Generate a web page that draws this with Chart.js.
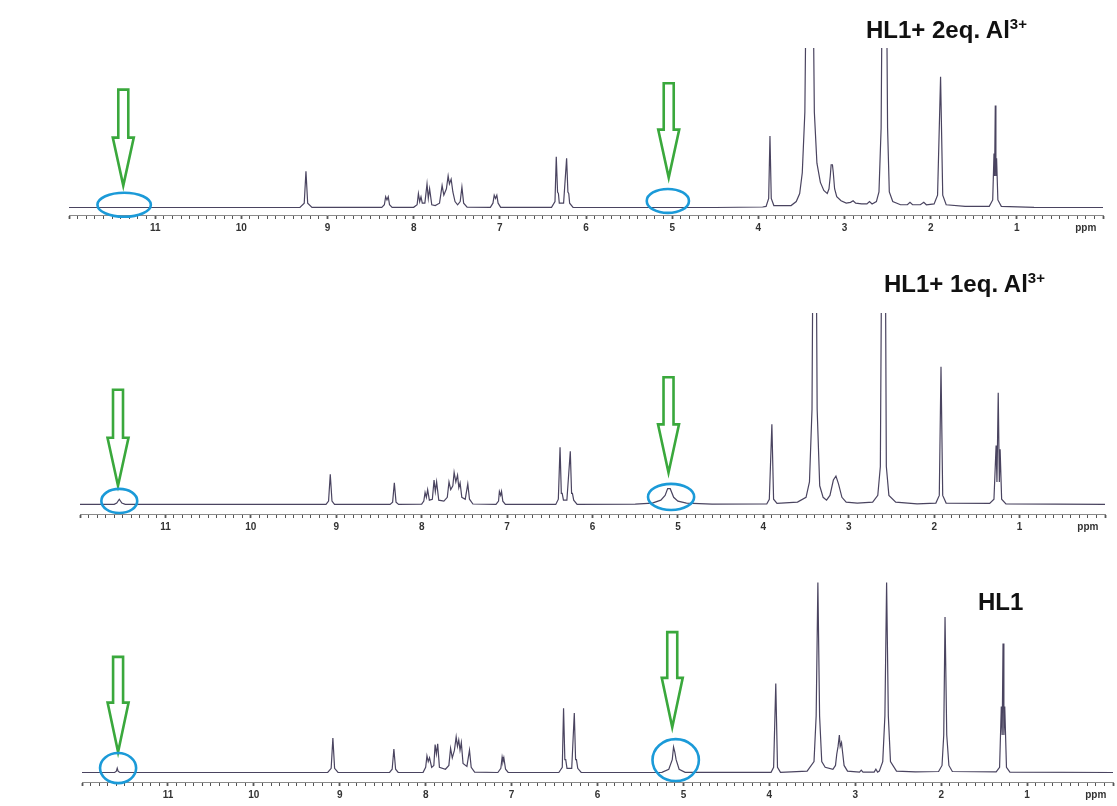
<!DOCTYPE html>
<html><head><meta charset="utf-8">
<script src="https://cdn.jsdelivr.net/npm/chart.js@4.4.1/dist/chart.umd.min.js"></script>
<style>
body{margin:0;background:#fff;width:1117px;height:806px;position:relative;overflow:hidden;font-family:"Liberation Sans",Arial,sans-serif}
.panel{position:absolute;left:0;width:1117px}
.lbl{position:absolute;font-weight:bold;font-size:24px;color:#111;white-space:nowrap;line-height:1}
.lbl sup{font-size:15px;vertical-align:0;position:relative;top:-9px}
</style></head>
<body>
<div class="panel" style="top:0;height:240px"><canvas id="c1" width="1117" height="240"></canvas></div>
<div class="panel" style="top:260px;height:280px"><canvas id="c2" width="1117" height="280"></canvas></div>
<div class="panel" style="top:560px;height:246px"><canvas id="c3" width="1117" height="246"></canvas></div>
<div class="lbl" style="left:866px;top:18px">HL1+ 2eq. Al<sup>3+</sup></div>
<div class="lbl" style="left:884px;top:272px">HL1+ 1eq. Al<sup>3+</sup></div>
<div class="lbl" style="left:978px;top:590px">HL1</div>
<script>
// ---- chemical shift tick labels (ppm) ----
const tickLabels = ['1','2','3','4','5','6','7','8','9','10','11'];
const unitLabel = 'ppm';

// ---- spectra: [ppm, relative intensity] ----
const spectrumTwoEq = [
 [12.0,0.3],[9.32,0.4],[9.27,3],[9.25,23],[9.23,3],[9.18,0.4],
 [8.37,0.4],[8.34,2],[8.325,7],[8.31,5],[8.295,7],[8.28,2],[8.25,0.4],
 [8.0,0.4],[7.96,2],[7.945,9],[7.93,4],[7.915,7],[7.9,3],[7.87,3],[7.845,15],[7.83,6],[7.815,12],[7.79,2],[7.75,1.5],
 [7.7,3],[7.67,14],[7.65,8],[7.62,12],[7.6,20],[7.585,15],[7.565,18],[7.545,10],[7.52,4],[7.49,2],[7.46,4],[7.44,13],[7.42,3],[7.38,0.5],
 [7.11,0.4],[7.08,3],[7.065,8],[7.05,6],[7.035,8],[7.02,3],[6.99,0.4],
 [6.40,0.4],[6.36,4],[6.345,32],[6.33,10],[6.32,9],[6.31,3],[6.26,3],[6.225,31],[6.21,10],[6.20,9],[6.19,3],[6.15,0.4],
 [5.2,0.3],[4.5,0.3],[3.95,0.6],[3.91,1],[3.88,6],[3.865,45],[3.85,6],[3.82,1.5],
 [3.62,1.5],[3.56,4],[3.52,9],[3.49,22],[3.46,60],[3.44,170],[3.37,170],[3.35,60],[3.32,28],[3.28,16],[3.24,11],[3.2,9],
 [3.18,12],[3.165,20],[3.155,27],[3.14,27],[3.13,22],[3.115,12],[3.09,7],[3.04,4.5],[2.98,3],[2.93,3.5],[2.9,4.5],[2.87,3],
 [2.8,2.5],[2.74,2.5],[2.71,4],[2.68,2.5],[2.63,4],[2.6,10],[2.575,50],[2.555,200],[2.52,200],[2.5,50],[2.48,10],[2.44,4],
 [2.35,2],[2.27,2],[2.24,3.5],[2.21,2],[2.12,2],[2.08,3.5],[2.05,2],[1.96,2.5],[1.92,8],[1.885,82],[1.86,8],[1.82,2],[1.6,1],
 [1.32,1],[1.28,5],[1.265,34],[1.258,20],[1.25,64],[1.243,20],[1.235,31],[1.22,5],[1.18,1],[0.8,0.4],[0.0,0.3]
];
const spectrumOneEq = [
 [12.0,0.3],[11.6,0.3],[11.57,1],[11.54,3],[11.51,1],[11.47,0.3],
 [9.12,0.3],[9.09,2],[9.07,16],[9.05,2],[9.02,0.3],
 [8.37,0.3],[8.34,1.5],[8.32,11.5],[8.30,1.5],[8.27,0.3],
 [8.0,0.4],[7.975,2],[7.96,6.5],[7.945,4],[7.93,8],[7.91,2.5],[7.875,3],[7.855,13],[7.84,7],[7.825,12],[7.8,2.5],[7.74,2],
 [7.7,4],[7.68,12],[7.66,8],[7.635,10],[7.62,17],[7.6,12],[7.58,15.5],[7.565,9],[7.55,11.5],[7.53,4],[7.49,3],[7.46,11],[7.44,3],[7.40,0.5],
 [7.13,0.3],[7.10,2],[7.09,7],[7.075,5],[7.065,7],[7.05,2],[7.02,0.3],
 [6.43,0.3],[6.40,3],[6.38,30],[6.365,6],[6.355,6],[6.34,2.5],[6.30,2.5],[6.26,28],[6.245,6],[6.235,6],[6.22,2.5],[6.18,0.3],
 [5.5,0.4],[5.3,1],[5.2,2.5],[5.15,5],[5.12,8.5],[5.09,8.5],[5.05,4],[5.0,2],[4.9,1],[4.6,0.4],
 [3.96,0.5],[3.93,3],[3.90,42],[3.88,3],[3.84,0.8],
 [3.6,1.5],[3.5,4],[3.46,12],[3.43,50],[3.415,170],[3.385,170],[3.37,50],[3.34,10],[3.3,4],[3.26,2.5],[3.22,5],[3.18,13],[3.15,15],[3.12,11],[3.08,4],[3.03,1.5],
 [2.9,1],[2.72,1.5],[2.66,5],[2.63,20],[2.61,170],[2.575,170],[2.56,20],[2.53,5],[2.45,1.5],[2.2,0.6],
 [1.98,1],[1.94,5],[1.92,72],[1.90,5],[1.86,1],
 [1.35,0.8],[1.3,3],[1.275,31],[1.265,12],[1.25,58.5],[1.237,12],[1.228,29],[1.21,3],[1.16,0.6],[0.0,0.3]
];
const spectrumFree = [
 [12.0,0.3],[11.62,0.3],[11.6,1],[11.59,2.6],[11.58,1],[11.56,0.3],
 [9.14,0.3],[9.1,2.5],[9.08,18.4],[9.06,2.5],[9.02,0.3],
 [8.42,0.3],[8.39,2],[8.37,12.6],[8.35,2],[8.32,0.3],
 [8.03,0.4],[8.0,3],[7.985,9],[7.97,6],[7.955,8],[7.93,3],[7.905,4],[7.89,15],[7.875,10],[7.86,15.3],[7.84,3],[7.77,2],
 [7.73,4],[7.71,13],[7.69,8],[7.665,12],[7.645,19],[7.63,14],[7.615,17.4],[7.6,12],[7.585,16],[7.565,5],[7.52,3.5],[7.49,12],[7.47,3],[7.43,0.5],
 [7.16,0.3],[7.125,2.5],[7.11,8.4],[7.10,6],[7.09,8],[7.07,2],[7.04,0.3],
 [6.45,0.3],[6.41,3],[6.395,34],[6.38,7],[6.37,7],[6.355,2.5],[6.3,2.5],[6.27,31.5],[6.255,7],[6.245,7],[6.23,2.5],[6.19,0.3],
 [5.25,0.4],[5.17,2],[5.13,7],[5.115,13.7],[5.1,11],[5.085,7],[5.05,2],[4.98,0.4],
 [3.98,0.4],[3.95,3],[3.925,47],[3.905,3],[3.87,0.4],
 [3.56,1],[3.48,6],[3.455,30],[3.435,100],[3.415,30],[3.39,6],[3.35,3],[3.26,2],[3.23,4],[3.215,10],[3.2,14],[3.185,20],[3.175,14],[3.16,16],[3.145,10],[3.13,4],[3.09,1],
 [2.95,0.5],[2.93,1.5],[2.91,0.5],[2.78,0.5],[2.76,2],[2.74,0.5],[2.72,1],
 [2.68,6],[2.655,30],[2.635,100],[2.615,30],[2.59,6],[2.52,1],[2.3,0.6],
 [2.03,0.8],[1.99,4],[1.97,20],[1.955,82],[1.935,20],[1.91,4],[1.87,0.8],
 [1.36,0.6],[1.32,3],[1.30,35],[1.29,20],[1.28,68],[1.27,20],[1.26,35],[1.24,3],[1.2,0.5],[0.0,0.3]
];

// ---- highlight annotations (ppm, intensity units) ----
const arrowsTwoEq = [{ppm:11.37, top:74, neck:44, tip:14}, {ppm:5.04, top:78, neck:49, tip:19}];
const ringsTwoEq  = [{ppm:11.36, y:2, rx:0.31, ry:7.5}, {ppm:5.05, y:4.4, rx:0.245, ry:7.5}];
const arrowsOneEq = [{ppm:11.555, top:60, neck:35, tip:10}, {ppm:5.11, top:66.5, neck:42, tip:16.8}];
const ringsOneEq  = [{ppm:11.54, y:2.1, rx:0.21, ry:6.3}, {ppm:5.08, y:4.2, rx:0.27, ry:6.8}];
const arrowsFree  = [{ppm:11.58, top:61, neck:37, tip:11}, {ppm:5.13, top:74, neck:50, tip:24}];
const ringsFree   = [{ppm:11.58, y:2.6, rx:0.21, ry:7.9}, {ppm:5.09, y:6.8, rx:0.27, ry:11}];

const LINE = '#4a4460', GREEN = '#3aa83c', BLUE = '#1b9ad8';

const markPlugin = {
  id: 'marks',
  afterDatasetsDraw(chart, args, opts) {
    const {ctx} = chart, xs = chart.scales.x, ys = chart.scales.y;
    ctx.save();
    ctx.lineWidth = 2.6;
    ctx.strokeStyle = GREEN;
    ctx.lineJoin = 'miter';
    (opts.arrows || []).forEach(a => {
      const x = xs.getPixelForValue(a.ppm);
      const yt = ys.getPixelForValue(a.top), yn = ys.getPixelForValue(a.neck), yp = ys.getPixelForValue(a.tip);
      const sw = 5, hw = 10.5;
      ctx.beginPath();
      ctx.moveTo(x - sw, yt); ctx.lineTo(x + sw, yt); ctx.lineTo(x + sw, yn);
      ctx.lineTo(x + hw, yn); ctx.lineTo(x, yp); ctx.lineTo(x - hw, yn);
      ctx.lineTo(x - sw, yn); ctx.closePath(); ctx.stroke();
    });
    ctx.strokeStyle = BLUE;
    (opts.rings || []).forEach(r => {
      const cx = xs.getPixelForValue(r.ppm), cy = ys.getPixelForValue(r.y);
      const rx = Math.abs(xs.getPixelForValue(r.ppm + r.rx) - cx);
      const ry = Math.abs(ys.getPixelForValue(r.y + r.ry) - cy);
      ctx.beginPath(); ctx.ellipse(cx, cy, rx, ry, 0, 0, Math.PI * 2); ctx.stroke();
    });
    ctx.restore();
  }
};

function build(id, points, yMin, yMax, padding, arrows, rings) {
  new Chart(document.getElementById(id), {
    type: 'scatter',
    data: { datasets: [{
      data: points.map(p => ({x: p[0], y: p[1]})),
      showLine: true, borderColor: LINE, borderWidth: 1.2, pointRadius: 0, tension: 0
    }]},
    options: {
      responsive: false, animation: false, devicePixelRatio: 1,
      layout: { padding },
      plugins: { legend: {display: false}, tooltip: {enabled: false}, marks: {arrows, rings} },
      scales: {
        x: {
          type: 'linear', min: 0, max: 12, reverse: true,
          border: { display: true, color: '#8a8a8a', width: 1 },
          grid: { drawOnChartArea: false, drawTicks: true, tickLength: 4, tickColor: '#555',
                  tickWidth: c => Math.abs(c.tick.value - Math.round(c.tick.value)) < 1e-6 ? 1.8 : 1 },
          ticks: {
            stepSize: 0.1, autoSkip: false, maxRotation: 0, padding: 3,
            color: '#333', font: { family: '"Liberation Sans", Arial, sans-serif', size: 10, weight: 'bold' },
            callback: v => {
              const r = Math.round(v);
              if (Math.abs(v - r) < 1e-6 && r >= 1 && r <= 11) return tickLabels[r - 1];
              if (Math.abs(v - 0.2) < 1e-6) return unitLabel;
              return '';
            }
          }
        },
        y: { display: false, min: yMin, max: yMax }
      }
    },
    plugins: [markPlugin]
  });
}

build('c1', spectrumTwoEq, -4.4, 100, {left: 69, right: 14, top: 48, bottom: 3}, arrowsTwoEq, ringsTwoEq);
build('c2', spectrumOneEq, -4.7, 100, {left: 80, right: 12, top: 53, bottom: 4}, arrowsOneEq, ringsOneEq);
build('c3', spectrumFree, -4.7, 104, {left: 82, right: 4, top: 15, bottom: 2}, arrowsFree, ringsFree);
</script>
</body></html>
